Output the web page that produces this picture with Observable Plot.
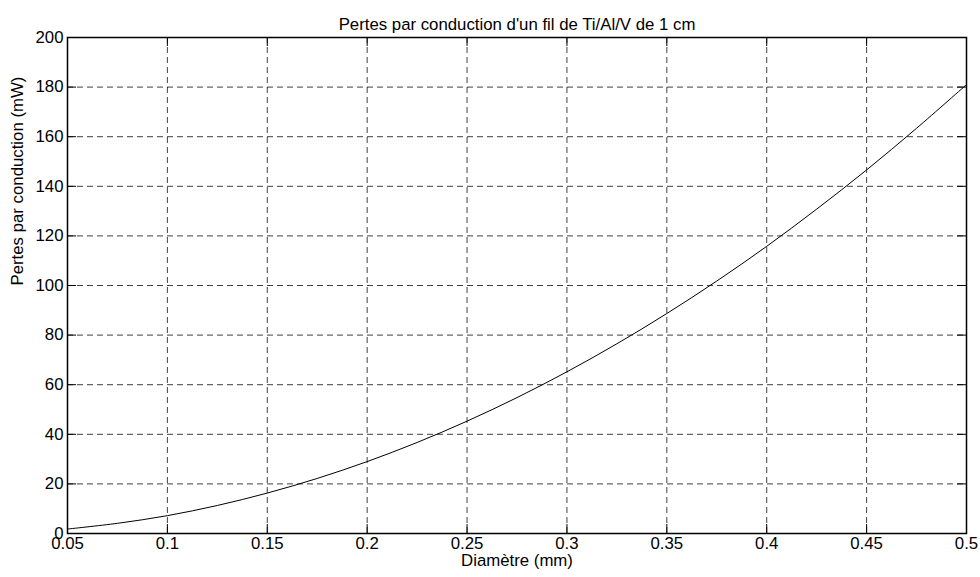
<!DOCTYPE html>
<html><head><meta charset="utf-8">
<script src="https://cdn.jsdelivr.net/npm/d3@7"></script>
<script src="https://cdn.jsdelivr.net/npm/@observablehq/plot@0.6"></script>
<style>body{margin:0;background:#fff}</style>
</head><body><div id="chart"></div>
<script>
const diameter = [0.05, 0.075, 0.1, 0.125, 0.15, 0.175, 0.2, 0.225, 0.25, 0.275, 0.3, 0.325, 0.35, 0.375, 0.4, 0.425, 0.45, 0.475, 0.5];
const pertes = [1.8, 4.1, 7.2, 11.3, 16.3, 22.2, 29.0, 36.7, 45.3, 54.8, 65.2, 76.5, 88.7, 101.8, 115.8, 130.8, 146.6, 163.4, 181.0];
const xTicks = [0.05, 0.1, 0.15, 0.2, 0.25, 0.3, 0.35, 0.4, 0.45, 0.5];
const yTicks = [0, 20, 40, 60, 80, 100, 120, 140, 160, 180, 200];
const titleText = "Pertes par conduction d'un fil de Ti/Al/V de 1 cm";
const xLabel = "Diamètre (mm)";
const yLabel = "Pertes par conduction (mW)";

const data = diameter.map((d, i) => ({d, p: pertes[i]}));
const W = 980, H = 577, mt = 37, mr = 14, mb = 44, ml = 67;
const ph = H - mt - mb, pw = W - ml - mr, tk = 9;
const font = "'Liberation Sans', Arial, Helvetica, sans-serif";
const fs = 16.8;

const chart = Plot.plot({
  width: W, height: H,
  marginTop: mt, marginRight: mr, marginBottom: mb, marginLeft: ml,
  style: {fontFamily: font, fontSize: fs + "px", color: "#000", background: "#fff", overflow: "visible"},
  x: {domain: [0.05, 0.5]},
  y: {domain: [0, 200]},
  marks: [
    Plot.gridX(xTicks, {stroke: "#000", strokeOpacity: 0.75, strokeDasharray: "6,4"}),
    Plot.gridY(yTicks, {stroke: "#000", strokeOpacity: 0.75, strokeDasharray: "6,4"}),
    Plot.tickX(xTicks, {x: d => d, insetTop: ph - tk, stroke: "#000"}),
    Plot.tickX(xTicks, {x: d => d, insetBottom: ph - tk, stroke: "#000"}),
    Plot.tickY(yTicks, {y: d => d, insetRight: pw - tk, stroke: "#000"}),
    Plot.tickY(yTicks, {y: d => d, insetLeft: pw - tk, stroke: "#000"}),
    Plot.axisX({ticks: xTicks, tickSize: 0, tickPadding: 4, label: null, fontSize: fs, tickFormat: d => String(d)}),
    Plot.axisY({ticks: yTicks, tickSize: 0, tickPadding: 4, label: null, fontSize: fs, tickFormat: d => String(d)}),
    Plot.frame({stroke: "#000", strokeWidth: 1.5}),
    Plot.line(data, {x: "d", y: "p", curve: "catmull-rom", stroke: "#000", strokeWidth: 1}),
    Plot.text([titleText], {text: d => d, frameAnchor: "top", dy: -19, fontSize: fs}),
    Plot.text([xLabel], {text: d => d, frameAnchor: "bottom", dy: 32, fontSize: fs}),
    Plot.text([yLabel], {text: d => d, frameAnchor: "left", dx: -49.5, rotate: -90, fontSize: fs})
  ]
});
document.getElementById("chart").append(chart);
</script>
</body></html>
